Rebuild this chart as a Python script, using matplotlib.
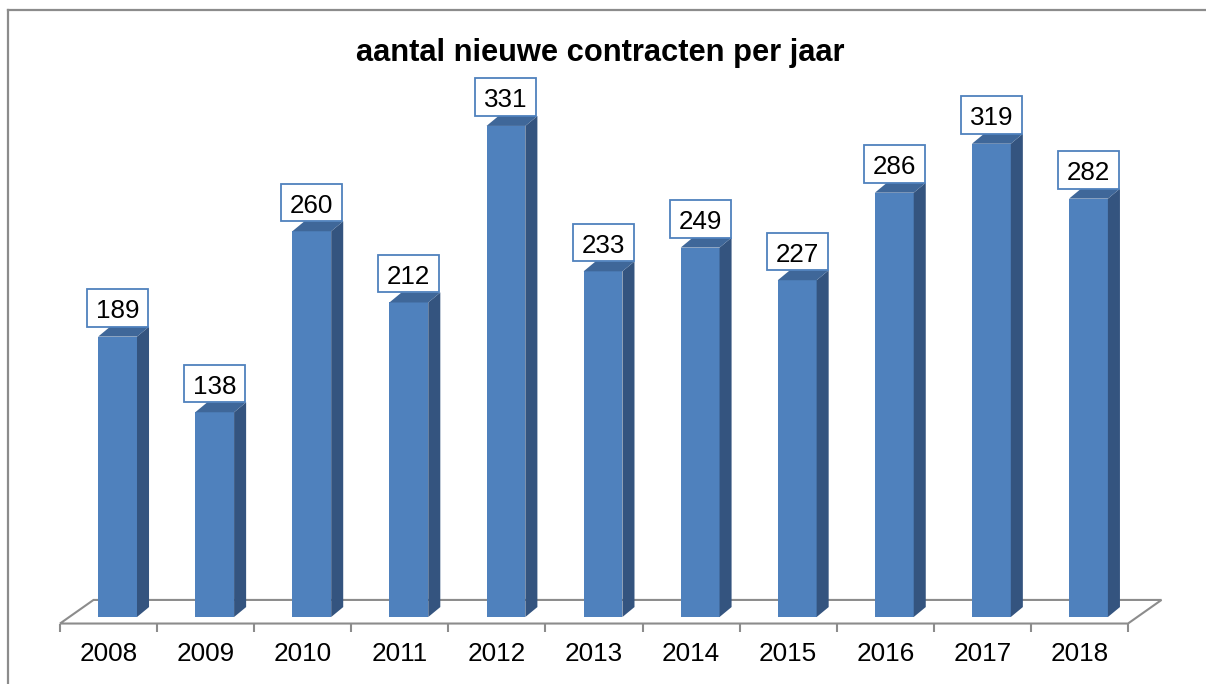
import matplotlib
matplotlib.use("Agg")
import matplotlib.pyplot as plt
import matplotlib.transforms as mtransforms
from matplotlib.patches import Polygon, Rectangle
from matplotlib.lines import Line2D

# ---- data ----
years = ["2008", "2009", "2010", "2011", "2012", "2013", "2014", "2015", "2016", "2017", "2018"]
values = [189, 138, 260, 212, 331, 233, 249, 227, 286, 319, 282]
title = "aantal nieuwe contracten per jaar"

# ---- style ----
FONT = "Liberation Sans"
C_FRONT = "#4F81BD"
C_SIDE = "#34547F"
C_TOP = "#3F6799"
C_GRID = "#8C8C8C"

W, H = 1206, 684
fig = plt.figure(figsize=(W / 100, H / 100), dpi=100)

# axes placement (pixel based)
x0_px, x1_px = 60, 1128
ylo, yhi = -20, 400
base_px, scale = 617.0, 1.4836
ybot_px = base_px - ylo * scale
ytop_px = base_px - yhi * scale
ax = fig.add_axes([x0_px / W, 1 - ybot_px / H, (x1_px - x0_px) / W, (ybot_px - ytop_px) / H])
ax.set_xlim(-0.5, len(years) - 0.5)
ax.set_ylim(ylo, yhi)
ax.set_facecolor("none")
for s in ["top", "right", "left", "bottom"]:
    ax.spines[s].set_visible(False)
ax.set_yticks([])

# floor geometry (3D-ish)
floor_front = -4.4
floor_dx, floor_dy = 0.345, 15.9
bar_shift_x = 0.093
bar_w = 0.40
dep_x, dep_y = 0.124, 6.7

n = len(years)
floor = Polygon([(-0.5, floor_front), (n - 0.5, floor_front),
                 (n - 0.5 + floor_dx, floor_front + floor_dy),
                 (-0.5 + floor_dx, floor_front + floor_dy)],
                closed=True, facecolor="white", edgecolor=C_GRID, lw=1.5, zorder=1,
                clip_on=False)
ax.add_patch(floor)

# x axis ticks / labels on the floor front edge
ax.spines["bottom"].set_position(("data", floor_front))
ax.set_xticks(range(n))
ax.set_xticklabels(years, fontsize=18.8, family=FONT)
ax.set_xticks([k - 0.5 for k in range(n + 1)], minor=True)
ax.tick_params(axis="x", which="major", length=0, pad=13.5)
ax.tick_params(axis="x", which="minor", length=5.8, width=1.5, color=C_GRID, direction="out")

# bars
xc = [i + bar_shift_x for i in range(n)]
ax.bar(xc, values, width=bar_w, color=C_FRONT, edgecolor="none", zorder=3)
for x, v in zip(xc, values):
    xl, xr = x - bar_w / 2, x + bar_w / 2
    side = Polygon([(xr, 0), (xr + dep_x, dep_y), (xr + dep_x, v + dep_y), (xr, v)],
                   closed=True, facecolor=C_SIDE, edgecolor="none", zorder=3)
    top = Polygon([(xl, v), (xr, v), (xr + dep_x, v + dep_y), (xl + dep_x, v + dep_y)],
                  closed=True, facecolor=C_TOP, edgecolor="none", zorder=3)
    ax.add_patch(side)
    ax.add_patch(top)

    # value label box (sized in inches, anchored to bar top)
    trans = fig.dpi_scale_trans + mtransforms.ScaledTranslation(x, v, ax.transData)
    bw, bh, boff = 0.61, 0.375, 0.10
    ax.add_patch(Rectangle((-bw / 2, boff), bw, bh, transform=trans,
                           facecolor="white", edgecolor=C_FRONT, lw=1.3, zorder=5,
                           clip_on=False))
    ax.text(0, boff + 0.085, str(v), transform=trans, ha="center", va="baseline",
            fontsize=18.7, family=FONT, color="black", zorder=6, clip_on=False)

# title
fig.text(600 / W, 1 - 61 / H, title, ha="center", va="baseline",
         fontsize=22.2, fontweight="bold", family=FONT)

# chart border (partially cropped)
fig.add_artist(Line2D([7.5 / W, 1], [1 - 9.5 / H, 1 - 9.5 / H], color=C_GRID, lw=1.6,
                      transform=fig.transFigure))
fig.add_artist(Line2D([7.5 / W, 7.5 / W], [0, 1 - 9.5 / H], color=C_GRID, lw=1.6,
                      transform=fig.transFigure))

fig.savefig("out.png", dpi=100)
